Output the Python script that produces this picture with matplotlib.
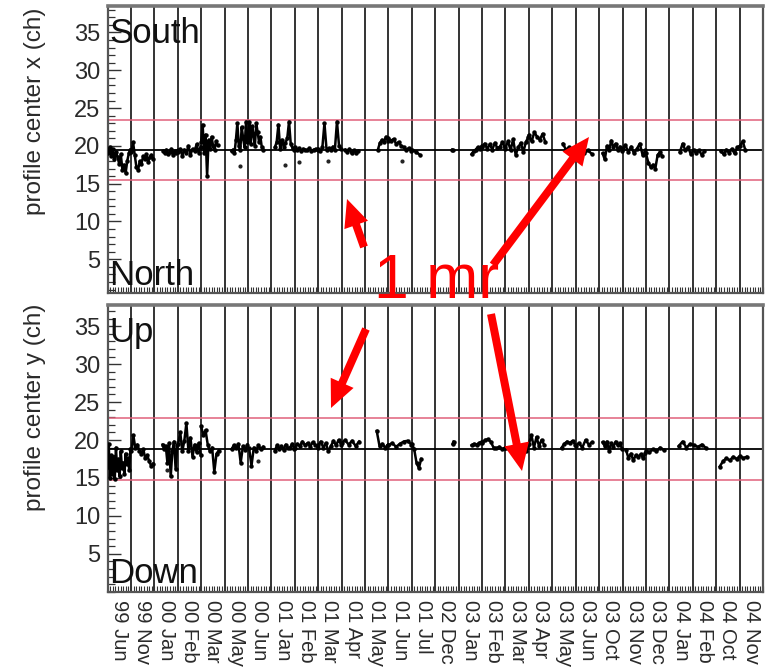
import numpy as np
import matplotlib
matplotlib.use("Agg")
import matplotlib.pyplot as plt
from matplotlib.patches import FancyArrowPatch
from matplotlib.ticker import MultipleLocator

plt.rcParams['font.family'] = ['Liberation Sans', 'DejaVu Sans']

# Month slots along the time axis
months = ["99 Jun", "99 Nov", "00 Jan", "00 Feb", "00 Mar", "00 May", "00 Jun",
          "01 Jan", "01 Feb", "01 Mar", "01 Apr", "01 May", "01 Jun", "01 Jul",
          "02 Dec", "03 Jan", "03 Feb", "03 Mar", "03 Apr", "03 May", "03 Jun",
          "03 Oct", "03 Nov", "03 Dec", "04 Jan", "04 Feb", "04 Oct", "04 Nov"]

# Horizontal profile centre (x), runs of readings: slot start, slot end, values
x_run_start = [0.02, 1.02, 2.38, 3.02, 4.00, 5.30, 6.00, 7.15, 8.00, 9.00, 10.15, 11.55,
               12.00, 13.00, 14.72, 15.55, 16.00, 17.00, 18.00, 19.45, 20.00, 21.15,
               22.00, 23.00, 24.45, 26.20]
x_run_end = [0.98, 1.95, 3.00, 3.98, 4.70, 5.98, 6.65, 7.98, 8.98, 9.98, 10.70, 11.98,
             12.98, 13.35, 14.76, 15.98, 16.98, 17.98, 18.70, 19.98, 20.70, 21.98,
             22.98, 23.70, 25.50, 27.25]
x_run_vals = [
    [19.0, 19.8, 18.6, 19.6, 18.2, 19.2, 18.5, 17.6, 18.9, 16.8, 17.5, 16.4, 18.0, 19.0, 19.5],
    [19.2, 20.5, 18.8, 17.2, 16.8, 18.0, 17.6, 18.6, 18.2, 18.9, 17.9, 18.5, 18.8, 18.3],
    [19.3, 19.0, 19.5, 18.9, 19.2, 19.6, 18.8, 19.3, 19.0, 19.4],
    [19.2, 19.6, 18.7, 19.5, 19.0, 20.0, 18.8, 19.6, 19.3, 20.2, 19.1, 19.9],
    [20.5, 22.8, 19.0, 21.5, 16.0, 20.8, 19.6, 21.2, 20.0, 19.5, 20.6, 20.1],
    [19.3, 19.5, 19.0, 20.8, 23.0, 20.0, 19.4, 22.5, 21.0, 19.8, 23.2, 20.5],
    [21.0, 23.2, 20.2, 22.6, 21.5, 20.0, 23.0, 21.8, 20.5, 21.2, 19.8, 19.5],
    [19.8, 20.5, 22.8, 19.6, 20.8, 19.9, 20.4, 21.0, 23.2, 20.2, 19.7, 19.5],
    [19.8, 19.4, 19.7, 19.3, 19.6, 19.5, 19.4, 19.7, 19.3, 19.5, 19.6, 19.4],
    [19.6, 19.3, 19.8, 23.0, 19.5, 19.7, 19.4, 19.9, 19.5, 23.2, 20.0, 19.6],
    [19.5, 19.2, 19.6, 19.0, 19.4, 19.1, 19.3],
    [19.5, 20.4, 20.8, 20.5, 21.2, 20.6],
    [21.0, 20.7, 20.9, 20.3, 20.5, 20.0, 19.8, 19.5, 19.7, 19.3],
    [19.5, 19.2, 18.8],
    [19.5, 19.4],
    [18.9, 19.3, 19.5, 19.8, 19.6, 20.0],
    [19.8, 20.3, 19.6, 20.2, 19.5, 20.4, 19.7, 19.9, 20.5, 19.6],
    [19.8, 20.6, 19.4, 20.9, 18.8, 19.8, 20.4, 19.2, 20.5, 21.2],
    [21.4, 20.6, 21.8, 21.2, 20.8, 21.6, 20.5],
    [20.3, 19.5, 19.8, 19.2, 19.6],
    [19.3, 19.7, 19.0, 19.4, 18.9],
    [19.0, 18.2, 20.0, 19.4, 20.7, 19.8, 20.3, 19.5, 19.9, 19.3],
    [19.6, 20.1, 19.2, 19.9, 19.0, 19.6, 20.3, 18.8, 19.4],
    [19.0, 17.8, 17.2, 17.5, 17.0, 18.8, 19.2, 18.6],
    [19.2, 20.3, 19.4, 19.8, 18.9, 19.5, 19.0, 19.4, 18.8, 19.3],
    [19.3, 18.9, 19.5, 19.1, 19.6, 19.0, 19.8, 20.0, 20.6, 19.4],
]
x_single_t = [5.68, 7.57, 8.17, 9.43, 12.57]
x_single_v = [17.3, 17.5, 17.9, 18.0, 18.0]
x_nominal = 19.45
x_band = [15.45, 23.45]

# Vertical profile centre (y)
y_run_start = [0.00, 1.02, 2.35, 3.02, 4.00, 5.30, 6.05, 7.15, 8.00, 9.00, 10.00, 11.50,
               12.00, 13.00, 14.74, 15.55, 16.00, 17.00, 18.00, 19.40, 20.00, 21.15,
               22.15, 23.00, 24.40, 26.15]
y_run_end = [0.98, 1.95, 2.98, 3.98, 4.75, 5.98, 6.65, 7.98, 8.98, 9.98, 10.75, 11.98,
             12.98, 13.40, 14.78, 15.98, 16.98, 17.98, 18.65, 19.98, 20.70, 21.98,
             22.98, 23.75, 25.55, 27.30]
y_run_vals = [
    [16.5, 19.5, 15.0, 18.0, 15.5, 17.8, 14.8, 19.0, 16.0, 17.5, 15.2, 18.5, 16.3, 17.0,
     15.5, 18.2, 16.8, 17.6, 16.0, 18.8],
    [18.5, 20.6, 18.9, 19.4, 18.6, 18.2, 18.8, 17.6, 18.0, 17.2, 16.6, 16.9],
    [19.4, 18.8, 19.2, 17.0, 19.6, 15.2, 18.5, 19.8, 16.2, 19.3],
    [19.5, 21.0, 18.5, 19.9, 22.2, 18.6, 20.3, 17.8, 19.4, 18.4, 19.6, 18.0],
    [21.8, 20.6, 21.3, 19.4, 18.5, 19.0, 15.8, 18.2, 18.6],
    [18.8, 19.3, 18.9, 19.5, 17.0, 19.2, 18.7, 19.4],
    [18.9, 16.6, 19.0, 18.6, 19.3, 18.8, 19.1],
    [18.6, 19.3, 18.8, 19.2, 18.7, 19.4, 18.9, 19.0, 19.5, 18.8],
    [19.0, 19.5, 19.2, 19.8, 19.3, 19.6, 19.1, 19.7, 19.4, 19.0],
    [19.3, 19.8, 19.0, 19.6, 18.5, 19.2, 19.9, 19.3, 20.0, 19.4],
    [19.6, 20.0, 19.4, 19.9, 19.2, 19.8],
    [21.2, 19.2, 19.5, 19.0, 19.4],
    [19.3, 19.6, 19.1, 19.5, 19.8, 19.9, 19.4],
    [19.5, 18.8, 17.0, 16.3, 17.5],
    [19.5, 19.8],
    [19.3, 19.5, 19.4, 19.6, 19.8],
    [19.6, 20.0, 20.1, 19.8, 19.0, 18.9, 19.1, 18.8, 19.0],
    [18.9, 19.0, 18.8, 19.1, 19.2, 18.7, 19.0, 18.5, 19.3],
    [19.5, 20.6, 19.0, 20.4, 19.2, 20.0, 19.4],
    [19.0, 19.5, 19.8, 19.6, 19.9, 19.4],
    [19.2, 19.6, 19.0, 20.0, 19.4, 19.7],
    [19.7, 19.2, 19.8, 18.6, 19.6, 19.1, 19.8, 19.3, 19.6, 18.8],
    [18.7, 17.6, 18.2, 17.3, 18.0, 17.8, 18.1, 17.6, 18.3],
    [18.6, 18.4, 18.8, 18.5, 19.0, 18.7],
    [19.2, 19.8, 19.0, 19.5, 19.3, 19.1, 19.4, 19.0],
    [16.5, 17.2, 17.6, 17.3, 17.8, 17.5, 17.9, 17.6, 17.8],
]
y_single_t = [2.55, 6.45]
y_single_v = [16.0, 17.2]
y_nominal = 18.8
y_band = [14.7, 22.9]

W, H = 774, 669
fig = plt.figure(figsize=(W / 100, H / 100), dpi=100)
fig.patch.set_facecolor('white')

ax_top = fig.add_axes([107.5 / W, 1 - 293.3 / H, 655.5 / W, 287.3 / H])
ax_bot = fig.add_axes([107.5 / W, 1 - 591.7 / H, 655.5 / W, 286.7 / H])

text_col = '#2a2a2a'


def draw_panel(ax, starts, ends, vals, st, sv, nominal, band, ylim, top_word, bottom_word):
    n = len(months)
    ax.set_xlim(0, n)
    ax.set_ylim(*ylim)
    # slot separators
    for k in range(1, n):
        ax.axvline(k, color='#333333', lw=1.4, zorder=1)
    ax.axhline(nominal, color='black', lw=1.3, zorder=2)
    for b in band:
        ax.axhline(b, color='#e0607a', lw=1.1, zorder=2)
    for s, e, v in zip(starts, ends, vals):
        t = np.linspace(s, e, len(v))
        ax.plot(t, v, color='black', lw=1.8, zorder=3, solid_joinstyle='round')
        ax.plot(t, v, ls='none', marker='o', ms=2.2, color='black', zorder=3)
    ax.plot(st, sv, ls='none', marker='o', ms=2.0, color='#222222', zorder=3)

    ax.set_yticks([5, 10, 15, 20, 25, 30, 35])
    ax.yaxis.set_minor_locator(MultipleLocator(1))
    ax.tick_params(axis='y', which='major', direction='in', length=9, width=1.0,
                   labelsize=17, labelcolor=text_col, color='#333333', pad=5)
    ax.tick_params(axis='y', which='minor', direction='in', length=5, width=0.9,
                   color='#333333')
    ax.set_xticks(np.arange(n) + 0.5)
    ax.xaxis.set_minor_locator(MultipleLocator(1 / 9))
    ax.tick_params(axis='x', which='major', length=0, labelsize=14.5, labelcolor=text_col,
                   pad=6)
    ax.tick_params(axis='x', which='minor', direction='in', length=4, width=0.8,
                   color='#333333')
    for sp in ax.spines.values():
        sp.set_color('#555555')
        sp.set_linewidth(1.6)
    ax.spines['top'].set_linewidth(2.6)
    ax.spines['top'].set_color('#777777')

    ax.text(0.003, 0.962, top_word, transform=ax.transAxes, ha='left', va='top',
            fontsize=25, color='#111111', zorder=5)
    ax.text(0.003, 0.005, bottom_word, transform=ax.transAxes, ha='left', va='bottom',
            fontsize=25, color='#111111', zorder=5)


draw_panel(ax_top, x_run_start, x_run_end, x_run_vals, x_single_t, x_single_v,
           x_nominal, x_band, (0.5, 38.5), 'South', 'North')
draw_panel(ax_bot, y_run_start, y_run_end, y_run_vals, y_single_t, y_single_v,
           y_nominal, y_band, (0.0, 37.8), 'Up', 'Down')

ax_top.set_xticklabels([])
ax_bot.set_xticklabels(months, rotation=270, va='top', ha='center')

fig.text(35 / W, 1 - 8 / H, 'profile center x (ch)', rotation=90, ha='center', va='top',
         fontsize=17.5, color=text_col)
fig.text(35 / W, 1 - 304 / H, 'profile center y (ch)', rotation=90, ha='center', va='top',
         fontsize=17.5, color=text_col)

# 1 mr annotation with arrows
red = '#ff0000'
fig.text(437 / W, 1 - 282 / H, '1 mr', color=red, fontsize=45, ha='center', va='center')
arrow_pairs = [((364, 247), (347, 199)),
               ((493, 265), (589, 137)),
               ((366, 329), (331, 408)),
               ((491, 314), (522, 471))]
for (tx, ty), (hx, hy) in arrow_pairs:
    fig.add_artist(FancyArrowPatch(
        (tx / W, 1 - ty / H), (hx / W, 1 - hy / H), transform=fig.transFigure,
        arrowstyle='simple,head_length=1.1,head_width=1.0,tail_width=0.32',
        mutation_scale=18, facecolor=red, edgecolor='none', lw=0,
        shrinkA=0, shrinkB=0, zorder=10))

fig.savefig('out.png', dpi=100, facecolor='white')
